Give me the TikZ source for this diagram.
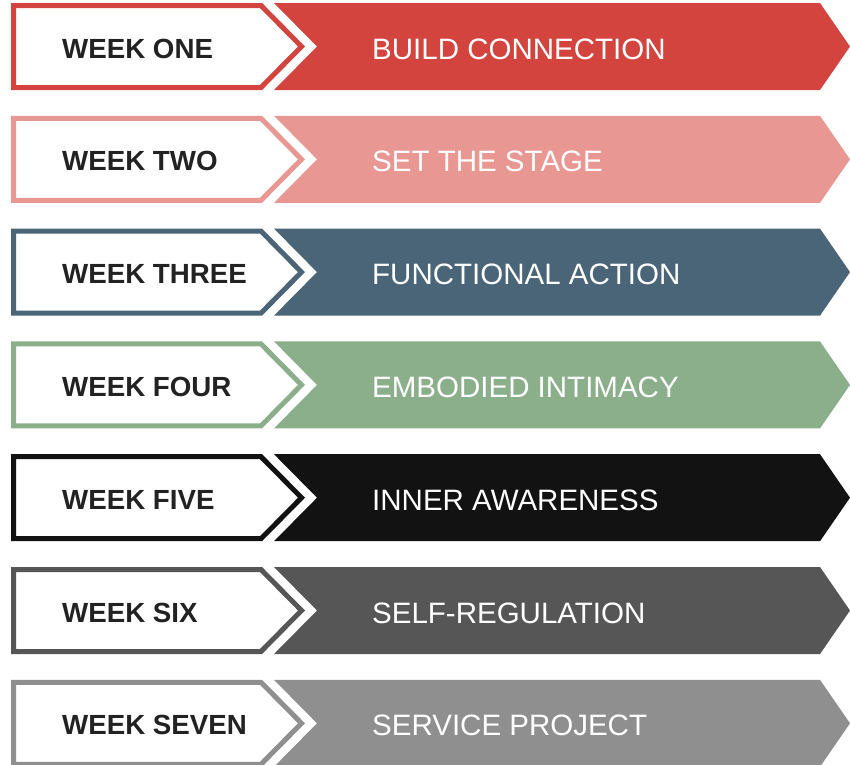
\documentclass[tikz,border=0pt]{standalone}
\usepackage{fontspec}
\setmainfont{Liberation Sans}

\definecolor{wkred}{HTML}{D3443F}
\definecolor{wkpink}{HTML}{E99792}
\definecolor{wkslate}{HTML}{4A6578}
\definecolor{wkgreen}{HTML}{8BAF8B}
\definecolor{wkblack}{HTML}{121212}
\definecolor{wkdark}{HTML}{565656}
\definecolor{wkgrey}{HTML}{8F8F8F}
\definecolor{wktext}{HTML}{222222}

\begin{document}
\begin{tikzpicture}[x=1pt,y=-1pt,
  banner/.style={fill=#1},
  tab/.style={draw=#1,fill=white,line width=5pt},
  weeklbl/.style={anchor=base west,inner sep=0pt,text=wktext,font=\fontsize{27.7}{30}\selectfont\bfseries},
  themelbl/.style={anchor=base west,inner sep=0pt,text=white,font=\fontsize{29.5}{32}\selectfont}]

\useasboundingbox (0,0) rectangle (850,764);

% week one
\fill[banner=wkred] (274,3) -- (820,3) -- (850,46.5) -- (820,90) -- (274,90) -- (317,46.5) -- cycle;
\draw[tab=wkred] (13.5,5.5) -- (261,5.5) -- (301.5,46.5) -- (261,87.5) -- (13.5,87.5) -- cycle;
\node[weeklbl] (w1) at (62,58) {WEEK ONE};
\node[themelbl] (t1) at (372,59) {BUILD CONNECTION};

% week two
\fill[banner=wkpink] (274,115.8) -- (820,115.8) -- (850,159.3) -- (820,202.8) -- (274,202.8) -- (317,159.3) -- cycle;
\draw[tab=wkpink] (13.5,118.3) -- (261,118.3) -- (301.5,159.3) -- (261,200.3) -- (13.5,200.3) -- cycle;
\node[weeklbl] (w2) at (62,170.8) {WEEK TWO};
\node[themelbl] (t2) at (372,171.8) {SET THE STAGE};

% week three
\fill[banner=wkslate] (274,228.6) -- (820,228.6) -- (850,272.1) -- (820,315.6) -- (274,315.6) -- (317,272.1) -- cycle;
\draw[tab=wkslate] (13.5,231.1) -- (261,231.1) -- (301.5,272.1) -- (261,313.1) -- (13.5,313.1) -- cycle;
\node[weeklbl] (w3) at (62,283.6) {WEEK THREE};
\node[themelbl] (t3) at (372,284.6) {FUNCTIONAL ACTION};

% week four
\fill[banner=wkgreen] (274,341.4) -- (820,341.4) -- (850,384.9) -- (820,428.4) -- (274,428.4) -- (317,384.9) -- cycle;
\draw[tab=wkgreen] (13.5,343.9) -- (261,343.9) -- (301.5,384.9) -- (261,425.9) -- (13.5,425.9) -- cycle;
\node[weeklbl] (w4) at (62,396.4) {WEEK FOUR};
\node[themelbl] (t4) at (372,397.4) {EMBODIED INTIMACY};

% week five
\fill[banner=wkblack] (274,454.2) -- (820,454.2) -- (850,497.7) -- (820,541.2) -- (274,541.2) -- (317,497.7) -- cycle;
\draw[tab=wkblack] (13.5,456.7) -- (261,456.7) -- (301.5,497.7) -- (261,538.7) -- (13.5,538.7) -- cycle;
\node[weeklbl] (w5) at (62,509.2) {WEEK FIVE};
\node[themelbl] (t5) at (372,510.2) {INNER AWARENESS};

% week six
\fill[banner=wkdark] (274,567) -- (820,567) -- (850,610.5) -- (820,654) -- (274,654) -- (317,610.5) -- cycle;
\draw[tab=wkdark] (13.5,569.5) -- (261,569.5) -- (301.5,610.5) -- (261,651.5) -- (13.5,651.5) -- cycle;
\node[weeklbl] (w6) at (62,622) {WEEK SIX};
\node[themelbl] (t6) at (372,623) {SELF-REGULATION};

% week seven
\fill[banner=wkgrey] (274,679.8) -- (820,679.8) -- (850,723.3) -- (820,766.8) -- (274,766.8) -- (317,723.3) -- cycle;
\draw[tab=wkgrey] (13.5,682.3) -- (261,682.3) -- (301.5,723.3) -- (261,764.3) -- (13.5,764.3) -- cycle;
\node[weeklbl] (w7) at (62,734.8) {WEEK SEVEN};
\node[themelbl] (t7) at (372,735.8) {SERVICE PROJECT};

\end{tikzpicture}
\end{document}
